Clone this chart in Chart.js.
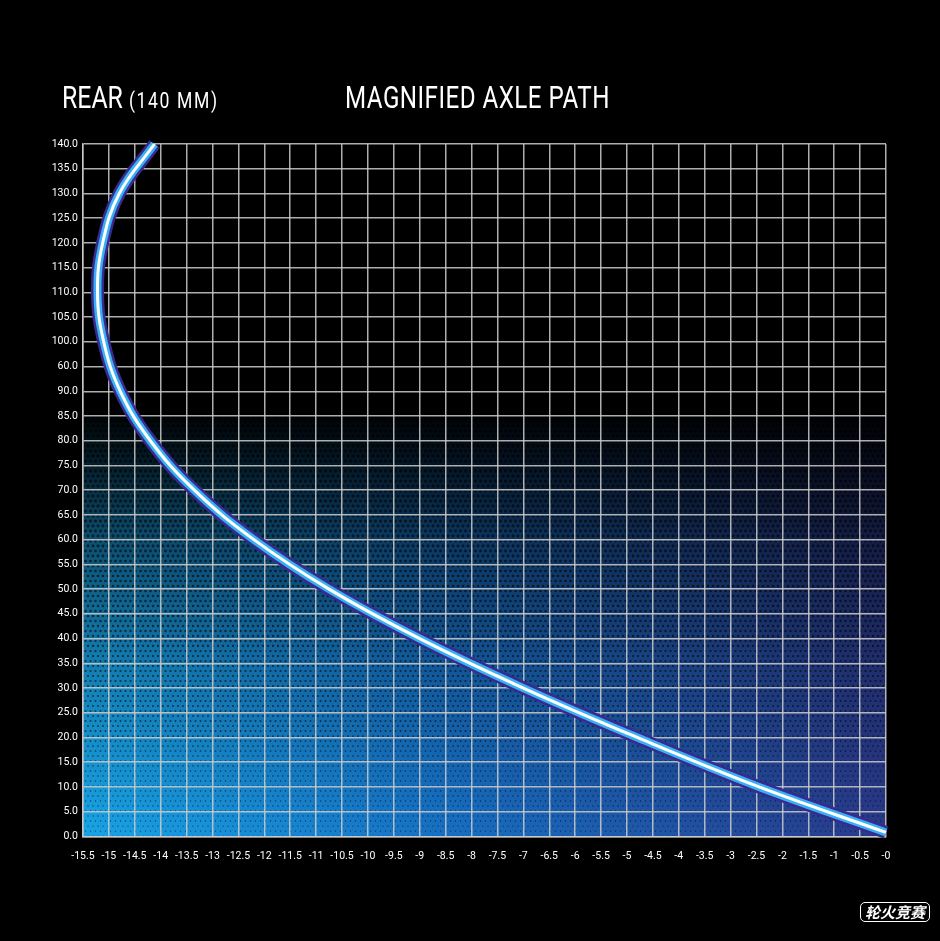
<!DOCTYPE html>
<html><head><meta charset="utf-8">
<script src="https://cdn.jsdelivr.net/npm/chart.js@4"></script>
<style>
html,body{margin:0;padding:0;background:#000;width:940px;height:941px;overflow:hidden}
#wrap{position:absolute;left:0;top:0;width:940px;height:941px}
.t{position:absolute;color:#fff;font-family:"Roboto","DejaVu Sans",sans-serif;white-space:nowrap;transform-origin:0 0;transform:scaleX(0.8)}
</style></head><body>
<div id="wrap"><canvas id="c" width="940" height="941"></canvas></div>
<div class="t" style="left:62px;top:79px;font-size:31px;">REAR <span style="font-size:22px;letter-spacing:2px">(140 MM)</span></div>
<div class="t" style="left:345px;top:79px;font-size:31px;letter-spacing:0.6px;transform:scaleX(0.78)">MAGNIFIED AXLE PATH</div>
<div class="t" style="left:860px;top:902px;font-size:15px;font-family:'Noto Sans CJK SC';font-weight:bold;font-style:italic;border:1.5px solid #fff;border-radius:5px;padding:0 4px;line-height:18px;transform:none">轮火竞赛</div>
<script>
const travel = [0.8,10,20,30,40,50,60,70,80,90,100,110,120,130,140];
const axleX = [0,-2.45,-4.8,-7.0,-9.0,-10.75,-12.2,-13.35,-14.2,-14.78,-15.1,-15.22,-15.12,-14.8,-14.12];
const yTickLabels = ['0.0','5.0','10.0','15.0','20.0','25.0','30.0','35.0','40.0','45.0','50.0','55.0','60.0','65.0','70.0','75.0','80.0','85.0','90.0','60.0','100.0','105.0','110.0','115.0','120.0','125.0','130.0','135.0','140.0'];

const pts = axleX.map((x,i)=>({x:x,y:travel[i]}));
const FONT = '"Roboto","DejaVu Sans",sans-serif';

const bg = {
  id:'bg',
  beforeDraw(chart){
    const {ctx, chartArea:a, scales} = chart;
    ctx.save();
    const gh = ctx.createLinearGradient(a.left,0,a.right,0);
    gh.addColorStop(0,'#18a4e6'); gh.addColorStop(0.45,'#1670c4'); gh.addColorStop(1,'#29398a');
    ctx.fillStyle = gh;
    ctx.fillRect(a.left,a.top,a.right-a.left,a.bottom-a.top);
    const yFade = scales.y.getPixelForValue(85);
    const gv = ctx.createLinearGradient(0,yFade,0,a.bottom);
    gv.addColorStop(0,'rgba(0,0,0,0.97)');
    gv.addColorStop(0.12,'rgba(0,0,0,0.8)');
    gv.addColorStop(0.3,'rgba(0,0,0,0.5)');
    gv.addColorStop(0.6,'rgba(0,0,0,0.22)');
    gv.addColorStop(1,'rgba(0,0,0,0.0)');
    ctx.fillStyle = gv;
    ctx.fillRect(a.left,a.top,a.right-a.left,a.bottom-a.top);
    ctx.fillStyle='#000';
    ctx.fillRect(a.left,a.top,a.right-a.left,yFade-a.top);
    ctx.fillStyle='rgba(0,0,0,0.6)';
    for(let yy=yFade; yy<a.bottom; yy+=5){
      const f=(yy-yFade)/(a.bottom-yFade);
      const r=1.8-1.2*f;
      const off=(Math.round((yy-yFade)/5)%2)*2.5;
      for(let xx=a.left+off; xx<a.right; xx+=5){
        ctx.beginPath(); ctx.arc(xx,yy,r,0,Math.PI*2); ctx.fill();
      }
    }
    ctx.restore();
  }
};

function ds(color,w){
  return {data:pts,showLine:true,borderColor:color,borderWidth:w,pointRadius:0,tension:0.4,fill:false,borderCapStyle:'butt'};
}

new Chart(document.getElementById('c'),{
  type:'scatter',
  data:{datasets:[ds('#ffffff',3),ds('#3ab0f4',8),ds('#382a8e',13)]},
  plugins:[bg],
  options:{
    responsive:false,animation:false,
    clip:false,
    layout:{padding:{left:0,right:54,top:144,bottom:64}},
    plugins:{legend:{display:false},tooltip:{enabled:false}},
    scales:{
      x:{type:'linear',min:-15.5,max:0,
        ticks:{stepSize:0.5,color:'#fff',font:{family:FONT,size:10.5},maxRotation:0,autoSkip:false,padding:14,
          callback:(v)=> v===0?'-0':String(v)},
        grid:{color:'rgba(205,205,205,0.85)',lineWidth:1.5,drawTicks:false},
        border:{color:'rgba(205,205,205,0.85)',width:1.5}},
      y:{type:'linear',min:0,max:140,afterFit(s){s.width=83;},
        ticks:{stepSize:5,color:'#fff',font:{family:FONT,size:10.5},autoSkip:false,padding:5,
          callback:(v)=> yTickLabels[Math.round(v/5)]},
        grid:{color:'rgba(205,205,205,0.85)',lineWidth:1.5,drawTicks:false},
        border:{color:'rgba(205,205,205,0.85)',width:1.5}}
    }
  }
});
</script></body></html>
